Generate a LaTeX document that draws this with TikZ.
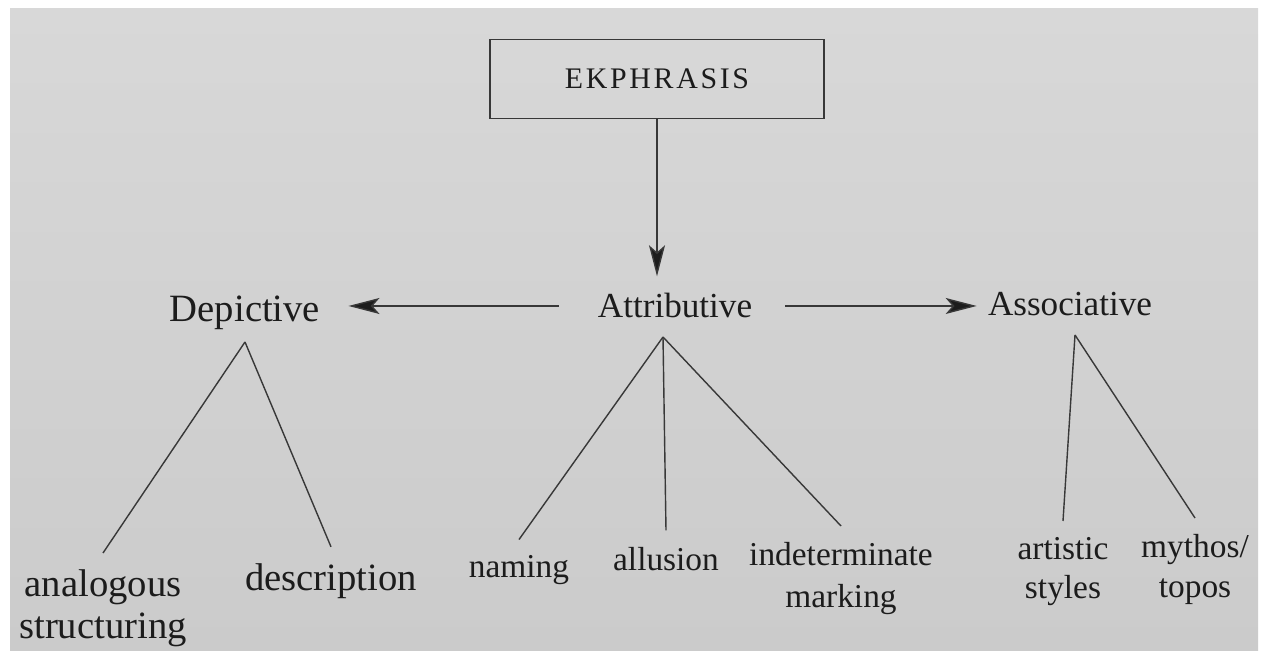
\documentclass[tikz,border=0pt]{standalone}
\usepackage{fontspec}
\setmainfont{Liberation Serif}
\usetikzlibrary{arrows.meta}
\definecolor{page}{HTML}{D8D8D8}
\definecolor{pagelow}{HTML}{CBCBCB}
\definecolor{ink}{HTML}{1C1C1C}
\definecolor{rule}{HTML}{383838}

\begin{document}
\begin{tikzpicture}[x=0.02cm,y=-0.02cm,
		cat/.style={font=\fontsize{20}{24}\selectfont,text=ink,inner sep=0pt},
		leaf/.style={font=\fontsize{19}{23}\selectfont,text=ink,inner xsep=0pt,inner ysep=0.32cm},
		big/.style={font=\fontsize{22}{24}\selectfont},
		arr/.style={draw=rule,line width=0.8pt,-{Stealth[length=0.62cm,width=0.32cm,inset=0.14cm,fill=ink]}},
		branch/.style={draw=rule,line width=0.8pt}]
		\useasboundingbox (0,0) rectangle (1261,651);
		\fill [white] (0,0) rectangle (1261,651);
		\shade [top color=page,bottom color=pagelow] (10,9) rectangle (1258,651);
		%
		\node [draw=rule,line width=0.7pt,minimum width=6.68cm,minimum height=1.58cm,text=ink,font=\fontsize{17}{20}\selectfont\addfontfeature{LetterSpace=9}] (ek) at (657,79) {EKPHRASIS};
		\node [cat,big,anchor=base] (dep) at (245,322) {Depictive};
		\node [cat,anchor=base] (attr) at (675,318) {Attributive};
		\node [cat,anchor=base] (asso) at (1070,316) {Associative};
		%
		\draw [arr,shorten >=0.34cm] (ek.south) -- (ek.south |- attr.north);
		\draw [arr,shorten <=0.78cm,shorten >=0.56cm] (attr.west) -- (attr.west -| dep.east);
		\draw [arr,shorten <=0.66cm,shorten >=0.22cm] (attr.east) -- (attr.east -| asso.west);
		%
		\coordinate (depapex) at (245,342);
		\coordinate (attrapex) at (663,337);
		\coordinate (assoapex) at (1075,335);
		\node [leaf,big,anchor=north,align=center] (analog) at (103,553) {analogous\\structuring};
		\node [leaf,big,anchor=base] (descr) at (331,590) {description};
		\node [leaf,anchor=base] (naming) at (519,578) {naming};
		\node [leaf,anchor=base] (allusion) at (666,570) {allusion};
		\node [leaf,anchor=north,align=center,font=\fontsize{19}{24}\selectfont] (indet) at (841,526) {indeterminate\\marking};
		\node [leaf,anchor=north,align=center,font=\fontsize{19}{22}\selectfont] (styles) at (1063,521) {artistic\\styles};
		\node [leaf,anchor=north,align=center] (topos) at (1195,518) {mythos/\\topos};
		%
		\draw [branch] (depapex) -- (analog.north);
		\draw [branch] (depapex) -- (descr.north);
		\draw [branch] (attrapex) -- (naming.north);
		\draw [branch] (attrapex) -- (allusion.north);
		\draw [branch] (attrapex) -- (indet.north);
		\draw [branch] (assoapex) -- (styles.north);
		\draw [branch] (assoapex) -- (topos.north);
	\end{tikzpicture}
\end{document}
